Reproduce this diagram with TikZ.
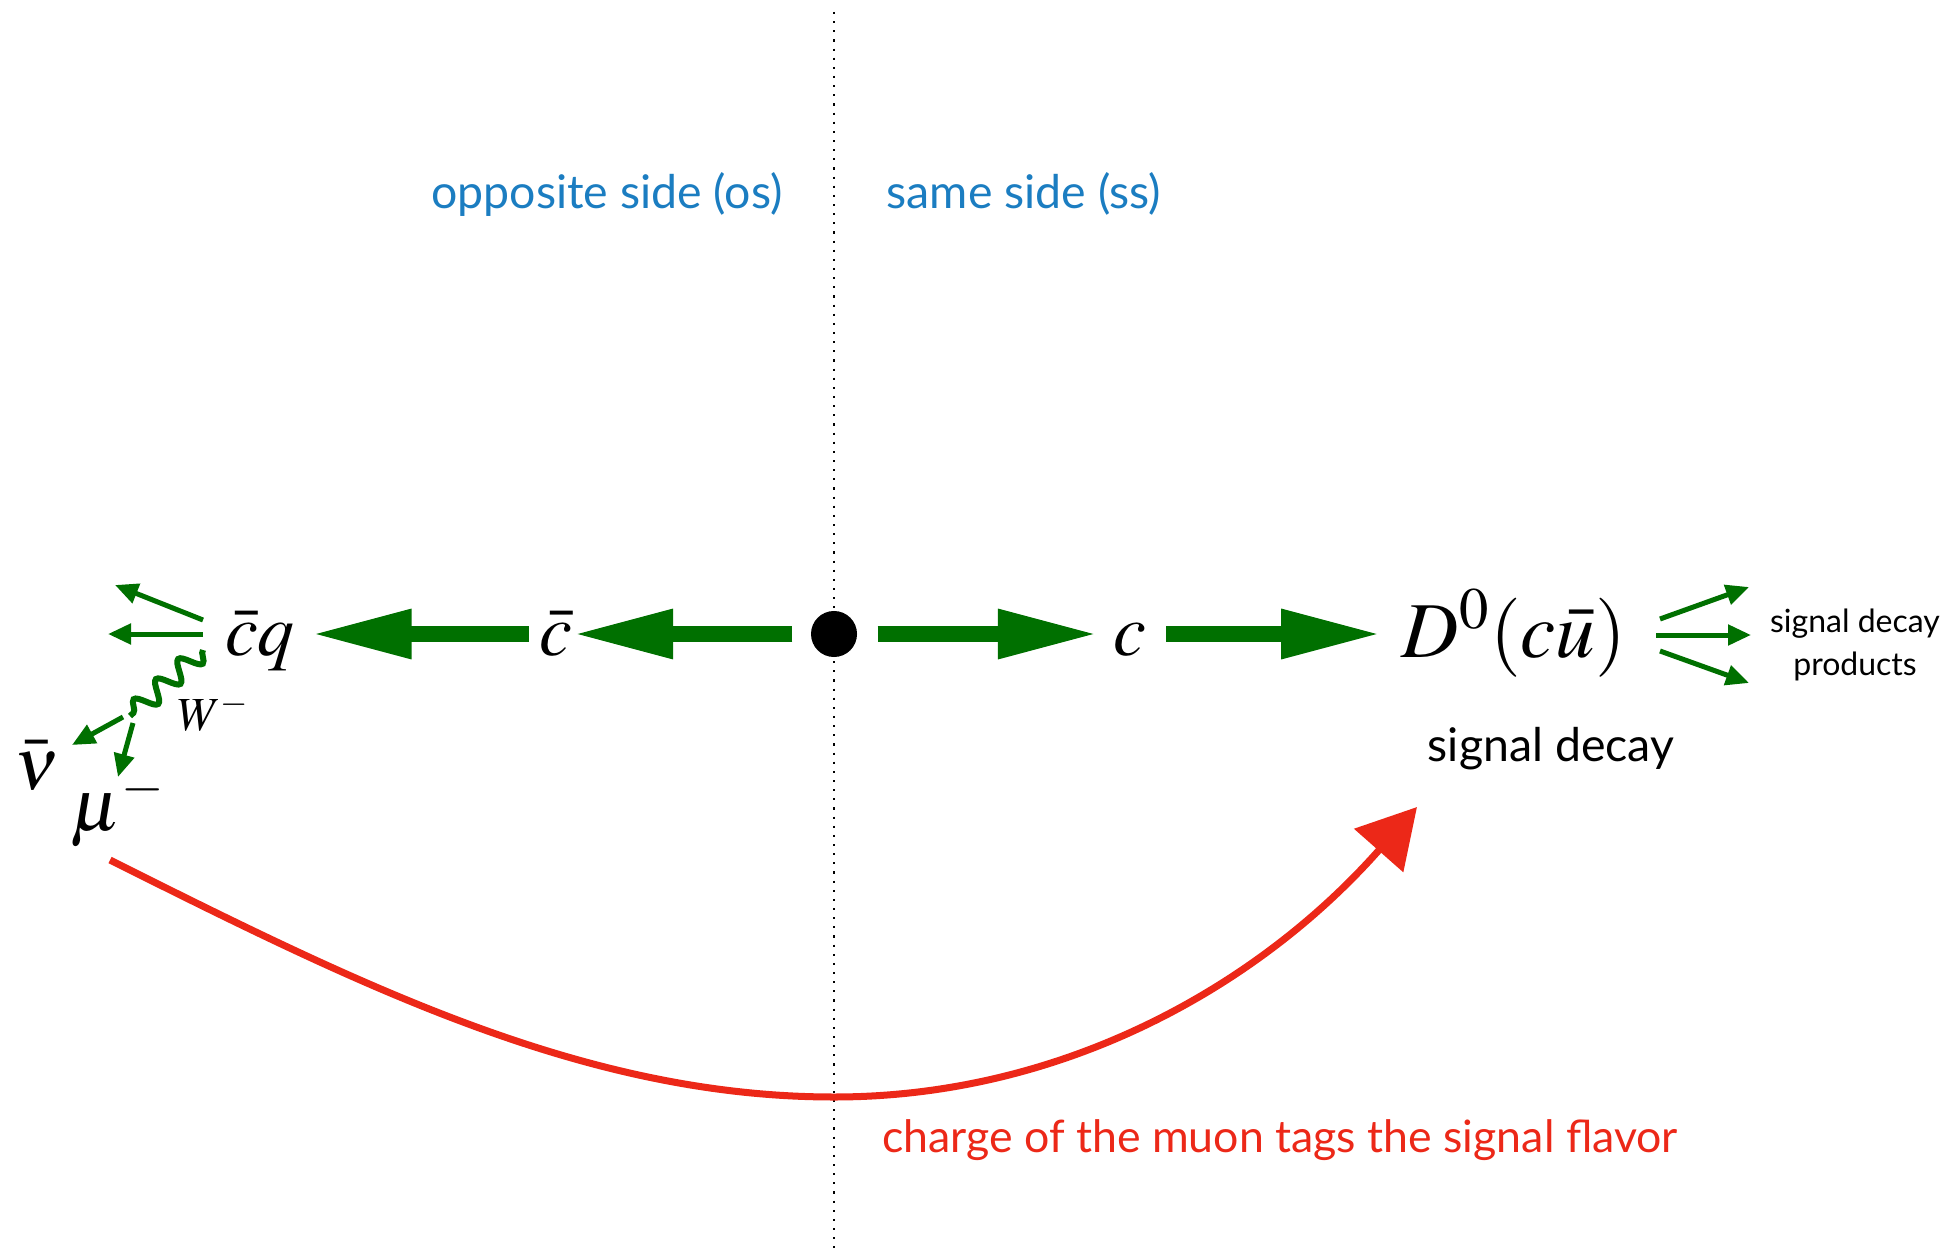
\documentclass[tikz,border=0pt]{standalone}
\usepackage{mathptmx}
\usepackage[no-math]{fontspec}
\setmainfont{Lato}
\usetikzlibrary{arrows.meta, positioning, decorations.pathmorphing}

\definecolor{quarkgreen}{RGB}{0,112,0}
\definecolor{sideblue}{RGB}{27,125,193}
\definecolor{tagred}{RGB}{236,40,24}

\begin{document}
\begin{tikzpicture}[
    x=0.01cm, y=-0.01cm,
    quark/.style={inner sep=0pt, anchor=base, font=\fontsize{21}{24}\selectfont},
    side/.style={text=sideblue, font=\fontsize{13.2}{15}\selectfont},
    note/.style={align=center, font=\fontsize{13.2}{15}\selectfont},
    bigarr/.style={-{Triangle[length=1cm, width=0.46cm]}, draw=quarkgreen, line width=0.155cm, shorten <=0.2cm, shorten >=0.2cm},
    smallarr/.style={-{Triangle[length=0.23cm, width=0.2cm]}, draw=quarkgreen, line width=0.05cm},
    tagarr/.style={-{Triangle[length=0.58cm, width=0.64cm]}, draw=tagred, line width=0.07cm}
  ]
    \useasboundingbox (0,0) rectangle (1958,1255);
    % separation between the two sides
    \draw[dotted, line width=0.6pt] (834,12) -- (834,1250);
    \node[side] (os) at (607,194) {opposite side (os)};
    \node[side] (ss) at (1024,194) {same side (ss)};

    % production vertex and the charm pair
    \node[circle, fill=black, minimum size=0.46cm, inner sep=0pt] (vtx) at (834,634) {};
    \node[quark] (c) at (1130,655) {$c$};
    \node[quark, font=\fontsize{22.5}{26}\selectfont] (dz) at (1514,657) {$D^0(c\bar{u})$};
    \node[quark] (cbar) at (556,655) {$\bar{c}$};
    \node[quark] (cbarq) at (260,655) {$\bar{c}q$};
    \draw[bigarr, shorten >=0.15cm] (vtx) -- (vtx -| c.west);
    \draw[bigarr, shorten <=0.19cm] (vtx -| c.east) -- (vtx -| dz.west);
    \draw[bigarr, shorten >=0.0cm, shorten <=0.18cm] (vtx) -- (vtx -| cbar.east);
    \draw[bigarr, shorten <=0.1cm, shorten >=0.16cm] (vtx -| cbar.west) -- (vtx -| cbarq.east);

    % opposite side decay
    \coordinate (oa) at (203,620);
    \coordinate (ob) at (203,634);
    \coordinate (ua) at (115,585);
    \coordinate (ub) at (108,634);
    \coordinate (wa) at (203,650);
    \coordinate (wb) at (130,716);
    \coordinate (nuend) at (72,745);
    \coordinate (muend) at (118,777);
    \draw[smallarr] (oa) -- (ua);
    \draw[smallarr] (ob) -- (ub);
    \draw[draw=quarkgreen, line width=0.06cm, decorate, decoration={snake, segment length=0.3cm, amplitude=0.1cm}] (wa) -- (wb);
    \node[font=\fontsize{13.5}{15}\selectfont] (w) at (214,712) {$W^-$};
    \draw[smallarr] ([shift={(-7,1)}]wb) -- (nuend);
    \draw[smallarr] ([shift={(3,7)}]wb) -- (muend);
    \node[quark] (nu) at (37,789) {$\bar{\nu}$};
    \node[quark] (mu) at (118,830) {$\mu^-$};

    % signal side decay
    \coordinate (pa) at (1660,619);
    \coordinate (pb) at (1656,635);
    \coordinate (pc) at (1660,651);
    \draw[smallarr] (pa) -- (1749,587);
    \draw[smallarr] (pb) -- (1751,635);
    \draw[smallarr] (pc) -- (1749,683);
    \node[note, font=\fontsize{9.1}{12}\selectfont] (prod) at (1855,645) {signal decay\\products};
    \node[note] (sig) at (1551,749) {signal decay};

    % flavour tag
    \coordinate (tagA) at (110,860);
    \coordinate (tagB) at (1417,807);
    \draw[tagarr] (tagA) .. controls (360,985) and (584,1097) .. (834,1097)
        .. controls (1064,1097) and (1260,985) .. (tagB);
    \node[note, text=tagred, font=\fontsize{12.7}{15}\selectfont] (flav) at (1280,1140) {charge of the muon tags the signal flavor};
\end{tikzpicture}
\end{document}
